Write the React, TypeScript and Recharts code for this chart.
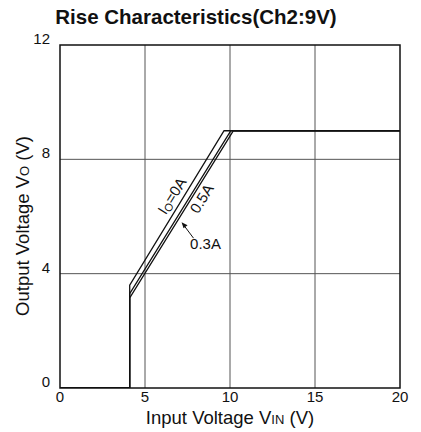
import { LineChart, Line, XAxis, YAxis, CartesianGrid, ReferenceDot, Label } from "recharts";

const xTicks = [0, 5, 10, 15, 20];
const yTicks = [0, 4, 8, 12];

const io0 = [
  { vin: 0, vo: 0 },
  { vin: 4.1, vo: 0 },
  { vin: 4.1, vo: 3.6 },
  { vin: 9.65, vo: 9 },
  { vin: 20, vo: 9 },
];
const io03 = [
  { vin: 0, vo: 0 },
  { vin: 4.1, vo: 0 },
  { vin: 4.1, vo: 3.3 },
  { vin: 10.05, vo: 9 },
  { vin: 20, vo: 9 },
];
const io05 = [
  { vin: 0, vo: 0 },
  { vin: 4.1, vo: 0 },
  { vin: 4.1, vo: 3.15 },
  { vin: 10.2, vo: 9 },
  { vin: 20, vo: 9 },
];

const font = "'Liberation Sans', Arial, sans-serif";

const YTick = ({ x, y, payload }: any) => (
  <text x={x - 2} y={y - 5} textAnchor="end" dominantBaseline="middle" fontSize={15} fill="#111" fontFamily={font}>
    {payload.value}
  </text>
);

const XTick = ({ x, y, payload }: any) => (
  <text x={x} y={y + 6} textAnchor="middle" fontSize={15} fill="#111" fontFamily={font}>
    {payload.value}
  </text>
);

const rotText = (label: any, angle: number) => (props: any) => (
  <text
    x={props.cx}
    y={props.cy}
    transform={`rotate(${angle} ${props.cx} ${props.cy})`}
    textAnchor="middle"
    dominantBaseline="middle"
    fontSize={15}
    fill="#111"
    fontFamily={font}
  >
    {label}
  </text>
);

const Arrow = (props: any) => {
  const { cx, cy } = props;
  return (
    <g>
      <line x1={cx + 3} y1={cy + 4} x2={cx + 12} y2={cy + 16} stroke="#111" strokeWidth={1} />
      <polygon points={`${cx},${cy} ${cx + 6},${cy + 3} ${cx + 2},${cy + 6}`} fill="#111" />
      <text x={cx + 24} y={cy + 23} textAnchor="middle" dominantBaseline="middle" fontSize={15} fill="#111" fontFamily={font}>
        0.3A
      </text>
    </g>
  );
};

export default function App() {
  return (
    <div style={{ position: "absolute", left: 0, top: 0, width: 421, height: 432, background: "#fff" }}>
      <div
        style={{
          position: "absolute",
          left: 0,
          width: 392,
          top: 5,
          textAlign: "center",
          fontFamily: font,
          fontWeight: "bold",
          fontSize: 20.5,
          color: "#111",
        }}
      >
        Rise Characteristics(Ch2:9V)
      </div>
      <LineChart width={421} height={432} margin={{ top: 45, right: 21, bottom: 0, left: 0 }}>
        <CartesianGrid stroke="#555" strokeWidth={1} horizontalValues={[4, 8]} verticalValues={[5, 10, 15]} />
        <XAxis
          type="number"
          dataKey="vin"
          domain={[0, 20]}
          ticks={xTicks}
          tick={<XTick />}
          tickLine={false}
          axisLine={false}
          height={44}
          allowDataOverflow
        >
          <Label
            content={({ viewBox }: any) => (
              <text x={viewBox.x + viewBox.width / 2} y={viewBox.y + 36} textAnchor="middle" fontSize={18.5} fill="#111" fontFamily={font}>
                Input Voltage V<tspan fontSize={13}>IN</tspan> (V)
              </text>
            )}
          />
        </XAxis>
        <YAxis
          type="number"
          domain={[0, 12]}
          ticks={yTicks}
          tick={<YTick />}
          tickLine={false}
          axisLine={false}
          width={60}
          allowDataOverflow
        >
          <Label
            content={() => {
              const cx = 29;
              const cy = 226;
              return (
                <text x={cx} y={cy} transform={`rotate(-90 ${cx} ${cy})`} textAnchor="middle" fontSize={18.5} fill="#111" fontFamily={font}>
                  Output Voltage V<tspan fontSize={13}>O</tspan> (V)
                </text>
              );
            }}
          />
        </YAxis>
        <Line data={io0} dataKey="vo" type="linear" stroke="#111" strokeWidth={1.3} dot={false} isAnimationActive={false} />
        <Line data={io03} dataKey="vo" type="linear" stroke="#111" strokeWidth={1.3} dot={false} isAnimationActive={false} />
        <Line data={io05} dataKey="vo" type="linear" stroke="#111" strokeWidth={1.3} dot={false} isAnimationActive={false} />
        <ReferenceDot
          x={6.65}
          y={6.7}
          r={0}
          shape={rotText(<>I<tspan fontSize={11} dy={3}>O</tspan><tspan dy={-3}>=0A</tspan></>, -58)}
        />
        <ReferenceDot x={8.4} y={6.6} r={0} shape={rotText("0.5A", -58)} />
        <ReferenceDot x={7.15} y={5.8} r={0} shape={Arrow} />
        <rect x={60} y={45} width={340} height={343} fill="none" stroke="#111" strokeWidth={1.5} />
      </LineChart>
    </div>
  );
}
